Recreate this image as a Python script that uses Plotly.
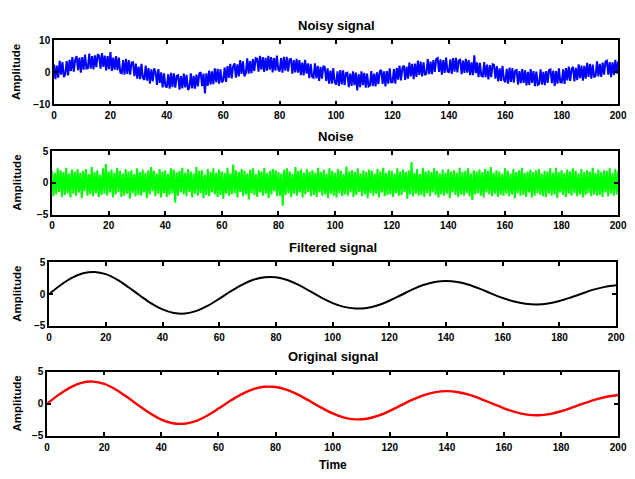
import numpy as np
import plotly.graph_objects as go

# ---------------- data ----------------
noise = [
 1.9, -2.1, 1.6, -1.8, 2.3, -1.4, 2.0, -2.2, 1.7, -1.9, 2.4, -1.6, 1.5, -2.3, 2.1, -1.7, 1.8, -2.0, 2.2, -1.5,
 1.6, -2.4, 1.9, -1.3, 2.2, -2.0, 1.4, -1.8, 2.5, -2.1, 1.7, -1.6, 2.0, -2.2, 1.3, -1.9, 2.3, -1.7, 3.0, -2.0,
 1.8, -1.5, 2.1, -2.3, 1.6, -1.8, 2.4, -1.4, 1.9, -2.2, 1.5, -2.0, 2.2, -1.7, 1.8, -2.5, 2.0, -1.6, 1.4, -2.1,
 2.3, -1.9, 1.7, -2.0, 2.1, -1.5, 1.6, -2.4, 2.0, -1.8, 2.5, -1.3, 1.9, -2.1, 1.5, -1.7, 2.2, -2.3, 1.8, -1.6,
 2.0, -2.2, 1.4, -1.9, 2.3, -1.6, 2.1, -3.1, 1.7, -2.0, 1.9, -1.5, 2.4, -1.8, 1.6, -2.1, 2.2, -1.4, 1.8, -2.3,
 1.5, -1.7, 2.5, -2.0, 1.9, -1.6, 2.0, -2.4, 1.3, -1.9, 2.2, -2.1, 1.7, -1.5, 2.3, -1.8, 1.6, -2.2, 2.1, -1.9,
 1.8, -2.5, 1.6, -1.7, 2.4, -2.0, 1.5, -1.8, 2.9, -1.6, 2.0, -2.3, 1.7, -1.4, 2.2, -2.1, 1.9, -1.8, 1.5, -2.6,
 2.1, -1.6, 2.3, -1.9, 1.4, -2.2, 2.0, -1.5, 1.8, -2.0, 2.4, -1.7, 1.6, -2.4, 1.9, -1.8, 2.2, -1.3, 2.0, -2.1,
 1.7, -2.0, 1.5, -3.6, 2.1, -1.9, 2.3, -1.6, 1.8, -2.2, 1.4, -1.7, 2.5, -2.0, 1.9, -1.5, 2.1, -2.3, 1.6, -1.8,
 2.2, -1.4, 1.8, -2.1, 2.0, -1.9, 1.6, -2.2, 2.4, -1.5, 1.7, -2.0, 2.1, -1.8, 1.5, -2.4, 2.3, -1.7, 1.9, -2.0,
 1.6, -2.3, 2.2, -1.6, 1.9, -2.1, 1.4, -1.8, 2.6, -2.0, 1.8, -1.5, 2.0, -2.2, 1.7, -1.9, 2.3, -1.4, 1.5, -2.1,
 2.0, -1.8, 1.7, -2.4, 2.1, -1.6, 1.9, -2.0, 1.5, -1.7, 2.2, -2.3, 1.8, -1.5, 2.4, -2.1, 1.6, -1.9, 2.0, -1.8,
 1.9, -2.2, 1.5, -1.6, 2.3, -2.0, 1.8, -1.9, 2.1, -1.4, 1.7, -2.5, 2.0, -1.8, 3.3, -2.1, 1.6, -1.7, 2.2, -2.0,
 1.4, -1.9, 2.4, -2.2, 1.8, -1.6, 2.0, -2.1, 1.7, -1.5, 2.3, -1.9, 1.9, -2.3, 1.5, -1.8, 2.1, -2.0, 1.6, -1.7,
 2.2, -2.4, 1.8, -1.5, 2.0, -1.9, 1.6, -2.2, 2.4, -1.8, 1.7, -2.0, 1.9, -1.6, 2.3, -2.1, 1.5, -2.7, 2.0, -1.8,
 1.8, -1.6, 2.1, -2.0, 1.7, -2.3, 2.2, -1.5, 1.9, -1.8, 2.5, -2.1, 1.6, -1.7, 2.0, -2.2, 1.8, -1.9, 1.4, -2.0,
 2.3, -1.7, 1.9, -2.1, 1.5, -1.8, 2.2, -2.4, 1.7, -1.6, 2.0, -2.0, 2.4, -1.9, 1.6, -2.2, 1.8, -1.5, 2.1, -2.3,
 1.7, -2.0, 2.0, -1.6, 2.2, -1.9, 1.5, -2.1, 1.9, -2.2, 1.8, -1.7, 2.3, -2.0, 1.6, -1.8, 2.4, -2.4, 1.7, -1.5,
 2.0, -1.9, 1.6, -2.2, 2.1, -1.7, 1.8, -2.0, 2.3, -1.6, 1.9, -2.1, 1.5, -1.8, 2.2, -2.3, 1.7, -1.9, 2.0, -1.6,
 1.8, -2.1, 2.4, -1.8, 1.6, -2.0, 2.1, -1.9, 1.7, -2.2, 2.0, -1.5, 1.9, -2.1, 2.3, -1.7, 1.6, -2.0, 2.2, -1.8,
 1.9,
]

noisy_signal = [
 2.4, -2.1, 2.1, -1.7, 3.6, -0.7, 3.2, -1.5,
 -0.6, 3.5, -1.0, 3.9, 0.4, 4.7, 0.2, 3.9,
 5.0, 0.7, 4.6, -0.1, 4.7, 0.8, 5.5, 1.2,
 1.3, 5.8, 1.1, 5.0, 0.9, 5.3, 1.6, 5.6,
 5.1, 1.1, 6.0, 1.7, 5.2, 0.6, 5.0, 1.0,
 6.3, 0.4, 4.6, 0.8, 5.0, 0.7, 4.6, -0.1,
 -0.3, 3.8, -0.7, 4.2, -0.5, 3.8, -0.7, 3.0,
 3.1, -1.2, 2.7, -2.0, 1.8, -2.1, 2.6, -1.7,
 -2.4, 2.1, -2.6, 1.3, -3.5, 0.9, -2.8, 1.2,
 0.1, -3.9, 1.0, -3.3, 0.0, -4.7, -0.3, -4.3,
 -4.7, -0.6, -5.1, -0.2, -4.6, -0.3, -4.8, -1.1,
 -0.9, -5.4, -1.2, -5.0, -0.4, -4.7, -0.8, -5.5,
 -4.8, -0.3, -5.0, -1.1, -5.1, -0.7, -4.4, -0.4,
 0.0, -4.3, -0.4, -6.6, -0.3, -4.2, 0.5, -3.8,
 0.3, -3.7, 1.2, -3.1, 1.1, -3.5, 0.9, -3.1,
 -2.6, 1.5, -3.0, 1.9, -1.7, 2.6, -1.9, 1.8,
 2.8, -1.7, 2.5, -1.3, 3.8, -0.5, 3.4, -1.3,
 -0.2, 4.3, -0.4, 3.5, -0.3, 4.1, 0.4, 4.4,
 4.2, 0.2, 5.1, 0.8, 4.7, 0.1, 4.5, 0.5,
 5.1, 0.8, 4.7, 0.0, 4.4, 0.5, 5.2, 0.9,
 0.3, 4.4, -0.1, 4.8, 0.5, 4.8, 0.3, 4.0,
 4.1, -0.4, 3.8, 0.0, 4.2, -0.1, 3.8, -0.9,
 3.0, -1.0, 3.9, -0.4, 2.8, -1.8, 2.6, -1.4,
 -1.7, 2.8, -1.9, 2.0, -2.7, 1.7, -2.0, 2.0,
 1.6, -2.7, 1.2, -3.5, 0.5, -3.5, 1.3, -3.1,
 -3.8, 0.3, -4.2, 0.7, -3.8, 0.6, -4.0, -0.3,
 -0.1, -4.6, -0.4, -4.2, 0.3, -4.0, -0.1, -5.6,
 -0.6, -4.6, 0.3, -4.0, -0.2, -4.8, -0.4, -4.4,
 -4.1, 0.4, -4.3, -0.4, -4.4, 0.0, -3.7, 0.3,
 0.7, -3.6, 0.3, -4.4, 0.4, -3.5, 1.2, -3.1,
 -3.1, 1.0, -3.5, 1.4, -2.3, 2.1, -2.5, 1.3,
 2.1, -2.4, 1.8, -2.0, 3.0, -1.3, 2.6, -2.1,
 2.7, -1.4, 3.6, -0.8, 3.3, -1.3, 3.1, -0.9,
 -0.4, 4.1, -0.6, 3.3, -0.6, 3.8, 0.1, 4.1,
 4.4, 0.1, 4.0, -0.7, 3.8, -0.2, 4.6, 0.3,
 -0.1, 4.0, -0.5, 4.4, 0.2, 4.5, 0.0, 3.7,
 3.9, -0.6, 3.6, -0.2, 4.2, -0.1, 3.8, -0.9,
 3.1, -0.9, 5.3, -0.3, 3.1, -1.5, 2.9, -1.1,
 -1.3, 3.2, -1.5, 2.4, -2.2, 2.2, -1.5, 2.5,
 2.3, -2.0, 1.9, -2.8, 1.2, -2.7, 2.0, -2.3,
 -3.1, 1.1, -3.5, 1.5, -3.0, 1.3, -3.2, 0.5,
 0.7, -3.8, 0.4, -3.4, 1.0, -3.3, 0.6, -4.1,
 0.1, -3.9, 1.0, -3.3, 0.4, -4.3, 0.2, -3.9,
 -3.6, 0.9, -3.8, 0.1, -4.0, 0.4, -3.3, 0.7,
 0.9, -3.4, 0.5, -4.2, 0.4, -3.5, 1.2, -3.1,
 -3.2, 0.9, -3.6, 1.3, -2.5, 1.8, -2.7, 1.0,
 1.7, -2.8, 1.4, -2.4, 2.5, -1.8, 2.1, -2.6,
 2.0, -2.0, 2.9, -1.4, 2.6, -2.0, 2.4, -1.6,
 -1.1, 3.4, -1.3, 2.6, -1.4, 3.0, -0.7, 3.3,
 3.6, -0.7, 3.2, -1.5, 3.1, -0.8, 3.9, -0.4,
 3.4,
]

filtered_signal = [
 0.0, 1.40, 2.55, 3.28, 3.50, 3.15, 2.28, 1.08, -0.22, -1.46, -2.42, -2.98, -3.08,
 -2.65, -1.83, -0.74, 0.42, 1.47, 2.26, 2.67, 2.66, 2.22, 1.45, 0.46, -0.55, -1.42,
 -2.02, -2.28, -2.20, -1.76, -1.05, -0.18, 0.70, 1.43, 1.90, 2.05, 1.90, 1.47, 0.82,
 0.08, -0.62, -1.18, -1.52, -1.63, -1.48, -1.09, -0.53, 0.10, 0.70, 1.14, 1.38,
]

original_signal = [
 0.0, 1.38, 2.52, 3.25, 3.45, 3.08, 2.22, 1.04, -0.25, -1.47, -2.45, -3.02, -3.10,
 -2.68, -1.85, -0.75, 0.43, 1.47, 2.25, 2.64, 2.60, 2.16, 1.39, 0.42, -0.60, -1.50,
 -2.15, -2.42, -2.32, -1.85, -1.10, -0.22, 0.64, 1.36, 1.82, 1.96, 1.80, 1.37, 0.74,
 0.02, -0.70, -1.30, -1.68, -1.78, -1.60, -1.16, -0.57, 0.07, 0.66, 1.10, 1.36,
]

x_ticks = [0, 20, 40, 60, 80, 100, 120, 140, 160, 180, 200]
panel_titles = ["Noisy signal", "Noise", "Filtered signal", "Original signal"]
y_label = "Amplitude"
x_label = "Time"

# sample time grids
t_fine_noise = np.arange(len(noise)) * 0.5
t_fine_noisy = np.arange(len(noisy_signal)) * 0.5
t_filtered = np.arange(len(filtered_signal)) * 4.0
t_original = np.arange(len(original_signal)) * 4.0

# ---------------- figure ----------------
W, H = 635, 479
FONT = "Liberation Sans"

fig = go.Figure()
fig.add_trace(go.Scatter(x=t_fine_noisy, y=noisy_signal, mode="lines",
                         line=dict(color="#0000ff", width=2.0, simplify=False), xaxis="x", yaxis="y"))
fig.add_trace(go.Scatter(x=t_fine_noise, y=noise, mode="lines",
                         line=dict(color="#00ff00", width=2.0, simplify=False), xaxis="x2", yaxis="y2"))
fig.add_trace(go.Scatter(x=t_filtered, y=filtered_signal, mode="lines",
                         line=dict(color="#000000", width=2, shape="spline"), xaxis="x3", yaxis="y3"))
fig.add_trace(go.Scatter(x=t_original, y=original_signal, mode="lines",
                         line=dict(color="#ff0000", width=2.4, shape="spline"), xaxis="x4", yaxis="y4"))

# pixel boxes of the four panels: (left, right, top, bottom)
boxes = [(52, 627, 35, 101), (50, 627, 149, 214), (47, 625, 263, 328), (45, 627, 375, 441)]
yranges = [[-10, 10], [-5, 5], [-5, 5], [-5, 5]]
yticks = [[-10, 0, 10], [-5, 0, 5], [-5, 0, 5], [-5, 0, 5]]

tickfont = dict(family=FONT, size=10, color="black", weight="bold")
common = dict(showline=True, linecolor="black", linewidth=1.6, mirror="ticks",
              ticks="inside", ticklen=4, tickwidth=1.6, tickcolor="black",
              showgrid=False, zeroline=False, tickfont=tickfont)

annotations = []
layout = dict(width=W, height=H, margin=dict(l=0, r=0, t=0, b=0),
              paper_bgcolor="white", plot_bgcolor="white", showlegend=False)
for i, (l, r, t, b) in enumerate(boxes):
    sfx = "" if i == 0 else str(i + 1)
    layout["xaxis" + sfx] = dict(domain=[l / W, r / W], anchor="y" + sfx, range=[0, 200],
                                 tickvals=x_ticks, ticklabelstandoff=1, **common)
    layout["yaxis" + sfx] = dict(domain=[1 - b / H, 1 - t / H], anchor="x" + sfx,
                                 range=yranges[i], tickvals=yticks[i], **common)
    annotations.append(dict(text="<b>%s</b>" % panel_titles[i], x=(l + r) / 2 / W, y=1 - (t - 15) / H,
                            xref="paper", yref="paper", showarrow=False, yanchor="middle",
                            font=dict(family=FONT, size=13, color="black")))
    annotations.append(dict(text="<b>%s</b>" % y_label, x=14 / W, y=1 - (t + b) / 2 / H,
                            xref="paper", yref="paper", showarrow=False, textangle=-90,
                            xanchor="center", yanchor="middle",
                            font=dict(family=FONT, size=11.5, color="black")))
annotations.append(dict(text="<b>%s</b>" % x_label, x=336 / W, y=1 - 471 / H,
                        xref="paper", yref="paper", showarrow=False, yanchor="middle",
                        font=dict(family=FONT, size=12, color="black")))
layout["annotations"] = annotations
fig.update_layout(**layout)

fig.write_html("out.html")
